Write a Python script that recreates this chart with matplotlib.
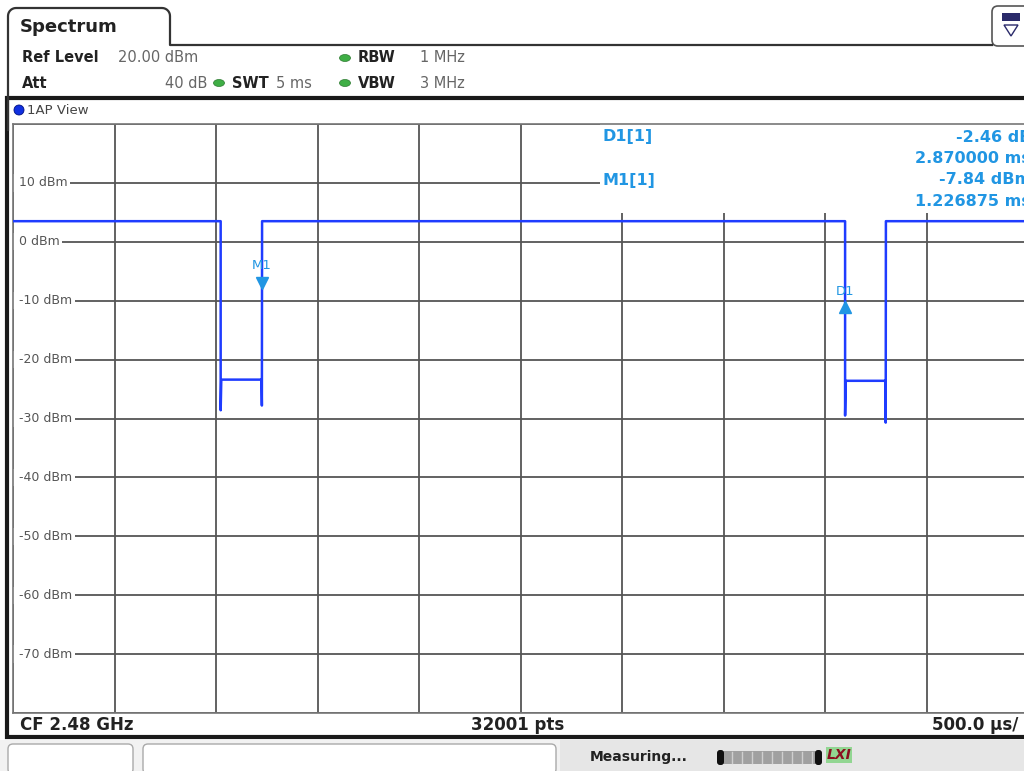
import matplotlib
matplotlib.use('Agg')
import matplotlib.pyplot as plt
import numpy as np
from matplotlib.patches import Rectangle, FancyBboxPatch, Ellipse, Circle, Polygon
from matplotlib.transforms import offset_copy

# trace (time in ms, level in dBm)
trace_t = [0.0, 1.023, 1.023, 1.026, 1.224, 1.226, 1.227,
           4.099, 4.099, 4.102, 4.297, 4.299, 4.300, 5.0]
trace_dbm = [3.5, 3.5, -28.6, -23.4, -23.4, -27.8, 3.5,
             3.5, -29.5, -23.6, -23.6, -30.7, 3.5, 3.5]

# markers
marker_names = ['M1', 'D1']
marker_t = [1.226875, 4.096875]
marker_dbm = [-7.84, -10.30]

# marker table
marker_rows = ['D1[1]', '', 'M1[1]', '']
marker_vals = ['-2.46 dB', '2.870000 ms', '-7.84 dBm', '1.226875 ms']

y_ticks = [10, 0, -10, -20, -30, -40, -50, -60, -70]

trace_col = '#1f3cff'
mk_col = '#2196e3'
grid_col = '#555555'
narrow = ['Liberation Sans Narrow', 'DejaVu Sans']

fig = plt.figure(figsize=(10.24, 7.71), dpi=100)
bg = fig.add_axes([0, 0, 1, 1])
bg.set_xlim(0, 1024)
bg.set_ylim(771, 0)
bg.axis('off')

# tab "Spectrum"
a = np.linspace(0, np.pi / 2, 8)
tab_x = [8] + list(8 + 8 * (1 - np.cos(a))) + list(162 + 8 * np.sin(a)) + [170, 992]
tab_y = [130] + list(16 - 8 * np.sin(a)) + list(8 + 8 * (1 - np.cos(a))) + [45, 45]
bg.plot(tab_x, tab_y, color='#333333', lw=1.6, solid_joinstyle='round')
bg.text(20, 27, 'Spectrum', fontsize=13, fontweight='bold', color='#222222', va='center')

# top right icon tab
bg.add_patch(FancyBboxPatch((992, 6), 40, 40, boxstyle='round,pad=0,rounding_size=6',
                            fc='white', ec='#555555', lw=1.2))
bg.add_patch(Rectangle((1002, 13), 18, 8, fc='#2a2a6a', ec='none'))
bg.add_patch(Polygon([[1004, 25], [1018, 25], [1011, 36]], closed=True,
                     fc='none', ec='#2a2a6a', lw=1.0))

# header
hdr = dict(fontsize=10.5, va='center')
bg.text(22, 58, 'Ref Level', fontweight='bold', color='#222222', **hdr)
bg.text(118, 58, '20.00 dBm', color='#666666', **hdr)
bg.text(22, 83, 'Att', fontweight='bold', color='#222222', **hdr)
bg.text(207, 83, '40 dB', color='#666666', ha='right', **hdr)
bg.text(232, 83, 'SWT', fontweight='bold', color='#222222', **hdr)
bg.text(276, 83, '5 ms', color='#666666', **hdr)
bg.text(358, 58, 'RBW', fontweight='bold', color='#222222', **hdr)
bg.text(420, 58, '1 MHz', color='#666666', **hdr)
bg.text(358, 83, 'VBW', fontweight='bold', color='#222222', **hdr)
bg.text(420, 83, '3 MHz', color='#666666', **hdr)
for ex, ey in [(219, 83), (345, 58), (345, 83)]:
    bg.add_patch(Ellipse((ex, ey), 11, 7, fc='#3fae45', ec='#2c7a30', lw=0.5))

# main frame
bg.add_patch(Rectangle((7, 98), 1030, 639, fc='white', ec='#1a1a1a', lw=3))
bg.add_patch(Circle((19, 110), 5, fc='#1030e0', ec='#001080', lw=0.6))
bg.text(27, 110, '1AP View', fontsize=9.5, color='#444444', va='center')

# footer
bg.text(20, 725, 'CF 2.48 GHz', fontsize=12, fontweight='bold', color='#222222',
        va='center', family=narrow)
bg.text(518, 725, '32001 pts', fontsize=12, fontweight='bold', color='#222222',
        va='center', ha='center', family=narrow)
bg.text(1018, 725, '500.0 µs/', fontsize=12, fontweight='bold', color='#222222',
        va='center', ha='right', family=narrow)

# status bar
bg.add_patch(Rectangle((0, 740), 1024, 31, fc='#f2f2f2', ec='none'))
bg.add_patch(Rectangle((560, 740), 464, 31, fc='#e6e6e6', ec='none'))
bg.add_patch(FancyBboxPatch((8, 744), 125, 30, boxstyle='round,pad=0,rounding_size=5',
                            fc='white', ec='#aaaaaa', lw=1))
bg.add_patch(FancyBboxPatch((143, 744), 413, 30, boxstyle='round,pad=0,rounding_size=5',
                            fc='white', ec='#aaaaaa', lw=1))
bg.text(590, 757, 'Measuring...', fontsize=10, fontweight='bold', color='#222222',
        va='center', family=narrow)
bg.add_patch(Rectangle((722, 751), 96, 13, fc='#a0a0a0', ec='none'))
bg.add_patch(FancyBboxPatch((717, 750), 7, 15, boxstyle='round,pad=0,rounding_size=3',
                            fc='#111111', ec='none'))
bg.add_patch(FancyBboxPatch((815, 750), 7, 15, boxstyle='round,pad=0,rounding_size=3',
                            fc='#111111', ec='none'))
for sx in range(732, 814, 10):
    bg.plot([sx, sx], [752, 763], color='#cfcfcf', lw=1)
bg.text(827, 755, 'LXI', fontsize=10, fontweight='bold', style='italic', color='#8a1020',
        va='center', bbox=dict(fc='#6fd06f', ec='none', pad=0.5, alpha=0.7))

# plot area
ax = fig.add_axes([13 / 1024, (771 - 713) / 771, 1015 / 1024, (713 - 124) / 771])
ax.set_xlim(0, 5)
ax.set_ylim(-80, 20)
ax.set_xticks(np.arange(0, 5.01, 0.5))
ax.set_yticks(range(-80, 21, 10))
ax.tick_params(length=0, labelleft=False, labelbottom=False)
ax.grid(True, color=grid_col, lw=1.3)
ax.set_axisbelow(True)
for s in ax.spines.values():
    s.set_color('#777777')
    s.set_linewidth(1.2)
    s.set_zorder(2.5)

for v in y_ticks:
    ax.text(0.012, v, f' {v} dBm', fontsize=9, color='#555555', va='center', ha='left',
            bbox=dict(fc='white', ec='none', pad=1.5), zorder=2)

ax.plot(trace_t, trace_dbm, color=trace_col, lw=1.8, zorder=4)

# marker table box
ax.add_patch(Rectangle((600, 124), 440, 89, fc='white', ec='none',
                       transform=bg.transData, zorder=2))
for i, (name, val) in enumerate(zip(marker_rows, marker_vals)):
    yy = 137 + i * 21.5
    if name:
        ax.text(603, yy, name, fontsize=11.5, fontweight='bold', color=mk_col, va='center',
                transform=bg.transData, zorder=5)
    ax.text(1031, yy, val, fontsize=11.5, fontweight='bold', color=mk_col, va='center',
            ha='right', transform=bg.transData, zorder=5, clip_on=False)

# marker symbols
m_down = offset_copy(ax.transData, fig=fig, x=0, y=5, units='dots')
m_up = offset_copy(ax.transData, fig=fig, x=0, y=-5, units='dots')
ax.plot(marker_t[0], marker_dbm[0], marker='v', ms=8, color=mk_col, transform=m_down, zorder=6)
ax.plot(marker_t[1], marker_dbm[1], marker='^', ms=8, color=mk_col, transform=m_up, zorder=6)
lbl_m = offset_copy(ax.transData, fig=fig, x=0, y=22, units='dots')
lbl_d = offset_copy(ax.transData, fig=fig, x=0, y=11, units='dots')
ax.text(marker_t[0], marker_dbm[0], marker_names[0], fontsize=9.5, color=mk_col,
        ha='center', va='center', transform=lbl_m, zorder=6)
ax.text(marker_t[1], marker_dbm[1], marker_names[1], fontsize=9.5, color=mk_col,
        ha='center', va='center', transform=lbl_d, zorder=6)

fig.savefig('out.png', dpi=100)
